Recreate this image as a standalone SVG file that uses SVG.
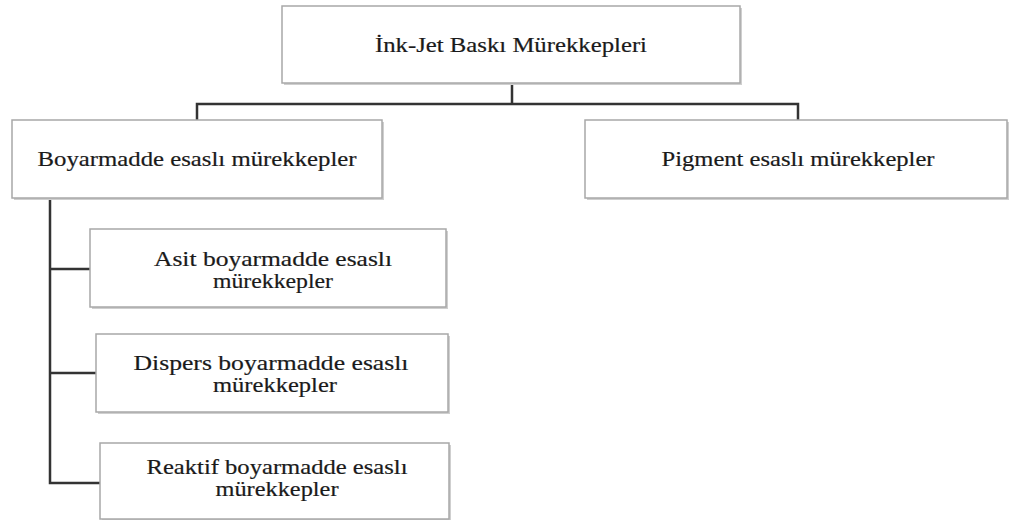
<svg xmlns="http://www.w3.org/2000/svg" width="1009" height="520" viewBox="0 0 1009 520">
<style>
.box{fill:#fff;stroke:#a8a8a8;stroke-width:1.5}
.sh{fill:#cfcfcf}
.t{font-family:"Liberation Serif",serif;font-size:21px;fill:#1a1a1a;stroke:#1a1a1a;stroke-width:0.2;text-anchor:middle}
.c{fill:none;stroke:#333;stroke-width:2.5}
</style>
<rect width="1009" height="520" fill="#fff"/>
<g id="connectors">
<path class="c" d="M512 83V104M197 120V104H798V120"/>
<path class="c" d="M50 198V483H100M50 269H90M50 373H96"/>
</g>
<g id="root">
<rect class="sh" x="284" y="8" width="458" height="77"/>
<rect class="box" x="282" y="6" width="458" height="77"/>
<text class="t" x="511" y="52" textLength="272" lengthAdjust="spacingAndGlyphs">İnk-Jet Baskı Mürekkepleri</text>
</g>
<g id="boyarmadde">
<rect class="sh" x="14" y="122" width="370" height="78"/>
<rect class="box" x="12" y="120" width="370" height="78"/>
<text class="t" x="197" y="166" textLength="319" lengthAdjust="spacingAndGlyphs">Boyarmadde esaslı mürekkepler</text>
</g>
<g id="pigment">
<rect class="sh" x="587" y="122" width="430" height="78"/>
<rect class="box" x="585" y="120" width="422" height="78"/>
<text class="t" x="798" y="166" textLength="273" lengthAdjust="spacingAndGlyphs">Pigment esaslı mürekkepler</text>
</g>
<g id="asit">
<rect class="sh" x="92" y="231" width="356" height="78"/>
<rect class="box" x="90" y="229" width="356" height="78"/>
<text class="t" x="273" y="266" textLength="238" lengthAdjust="spacingAndGlyphs">Asit boyarmadde esaslı</text>
<text class="t" x="273" y="288" textLength="120" lengthAdjust="spacingAndGlyphs">mürekkepler</text>
</g>
<g id="dispers">
<rect class="sh" x="98" y="336" width="352" height="78"/>
<rect class="box" x="96" y="334" width="352" height="78"/>
<text class="t" x="271" y="370" textLength="275" lengthAdjust="spacingAndGlyphs">Dispers boyarmadde esaslı</text>
<text class="t" x="275" y="392" textLength="124" lengthAdjust="spacingAndGlyphs">mürekkepler</text>
</g>
<g id="reaktif">
<rect class="sh" x="102" y="445" width="349" height="78"/>
<rect class="box" x="100" y="443" width="349" height="76"/>
<text class="t" x="277" y="474" textLength="261" lengthAdjust="spacingAndGlyphs">Reaktif boyarmadde esaslı</text>
<text class="t" x="277" y="496" textLength="123" lengthAdjust="spacingAndGlyphs">mürekkepler</text>
</g>
</svg>
